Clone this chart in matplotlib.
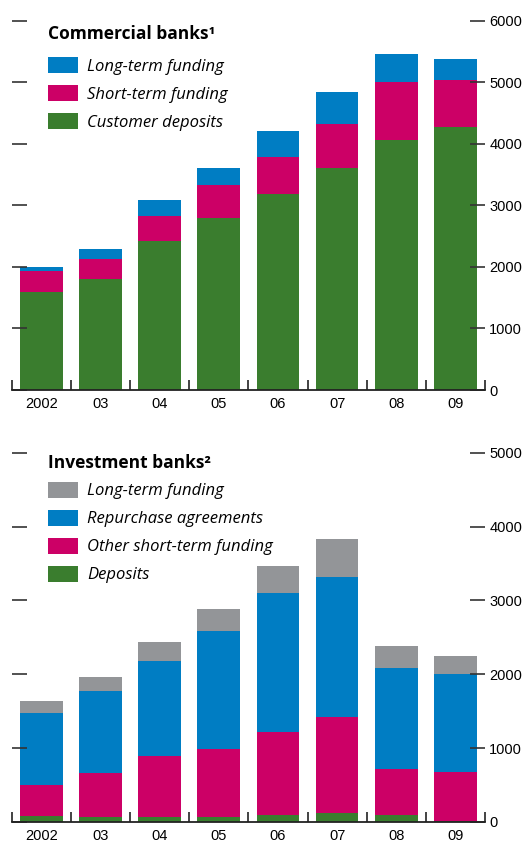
import matplotlib
matplotlib.use('Agg')
import matplotlib.pyplot as plt
from matplotlib.patches import Patch
from matplotlib.ticker import FixedLocator
import numpy as np

years = ["2002", "03", "04", "05", "06", "07", "08", "09"]

# Commercial banks (bottom to top of the stack)
cb_deposits = [1600, 1805, 2420, 2800, 3190, 3610, 4065, 4265]
cb_short = [330, 325, 410, 530, 600, 715, 945, 775]
cb_long = [75, 165, 255, 280, 420, 520, 455, 340]
cb_ticks = [0, 1000, 2000, 3000, 4000, 5000, 6000]

# Investment banks (bottom to top of the stack)
ib_deposits = [80, 68, 68, 68, 95, 122, 95, 10]
ib_other_short = [420, 595, 830, 920, 1127, 1300, 622, 671]
ib_repo = [975, 1110, 1280, 1597, 1877, 1895, 1367, 1322]
ib_long = [162, 190, 257, 297, 370, 515, 298, 243]
ib_ticks = [0, 1000, 2000, 3000, 4000, 5000]

GREEN = "#3a7d2e"
PINK = "#cc0066"
BLUE = "#007dc3"
GREY = "#939598"

TICK_FONT = dict(family="Liberation Sans", size=10.5)
TEXT_FONT = ["Open Sans", "DejaVu Sans"]


def draw_panel(ax, series, colors, labels, title, ticks, title_y, leg_y):
    x = np.arange(len(years))
    bottom = np.zeros(len(years))
    for vals, c in zip(series, colors):
        ax.bar(x, vals, 0.72, bottom=bottom, color=c, linewidth=0)
        bottom += np.array(vals)

    ax.set_xlim(-0.5, len(years) - 0.5)
    ax.set_ylim(ticks[0], ticks[-1])

    for side in ["top", "left", "right"]:
        ax.spines[side].set_visible(False)
    ax.spines["bottom"].set_linewidth(1.3)
    ax.spines["bottom"].set_color("#222222")

    ax.set_xticks(x)
    ax.set_xticklabels(years, **TICK_FONT)
    ax.xaxis.set_minor_locator(FixedLocator(np.arange(-0.5, len(years), 1.0)))
    ax.tick_params(axis="x", which="major", length=0, pad=5)
    ax.tick_params(axis="x", which="minor", direction="in", length=7,
                   width=1.2, color="#222222")

    ax.set_yticks(ticks)
    ax.set_yticklabels([str(t) for t in ticks], **TICK_FONT)
    ax.tick_params(axis="y", left=True, right=True, labelleft=False,
                   labelright=True, direction="in", length=11, width=1.2,
                   color="#333333", pad=3)

    ax.text(0.077, title_y, title, transform=ax.transAxes, ha="left",
            va="center", family=TEXT_FONT, weight="bold", size=12.5)

    handles = [Patch(color=c, linewidth=0) for c in colors][::-1]
    ax.legend(handles, labels[::-1], loc="upper left",
              bbox_to_anchor=(0.077, leg_y), frameon=False,
              borderpad=0, borderaxespad=0,
              handlelength=1.8, handleheight=1.1,
              handletextpad=0.55, labelspacing=0.62,
              prop={"family": TEXT_FONT, "style": "italic", "size": 12})


fig = plt.figure(figsize=(5.25, 8.44), dpi=100)
ax1 = fig.add_axes([0.0223, 0.5379, 0.9015, 0.4376])
ax2 = fig.add_axes([0.0223, 0.0261, 0.9015, 0.4375])

draw_panel(ax1, [cb_deposits, cb_short, cb_long], [GREEN, PINK, BLUE],
           ["Customer deposits", "Short-term funding", "Long-term funding"],
           "Commercial banks\u00b9", cb_ticks, 0.965, 0.9017)
draw_panel(ax2, [ib_deposits, ib_other_short, ib_repo, ib_long],
           [GREEN, PINK, BLUE, GREY],
           ["Deposits", "Other short-term funding", "Repurchase agreements",
            "Long-term funding"],
           "Investment banks\u00b2", ib_ticks, 0.972, 0.922)

fig.savefig("out.png", dpi=100)
